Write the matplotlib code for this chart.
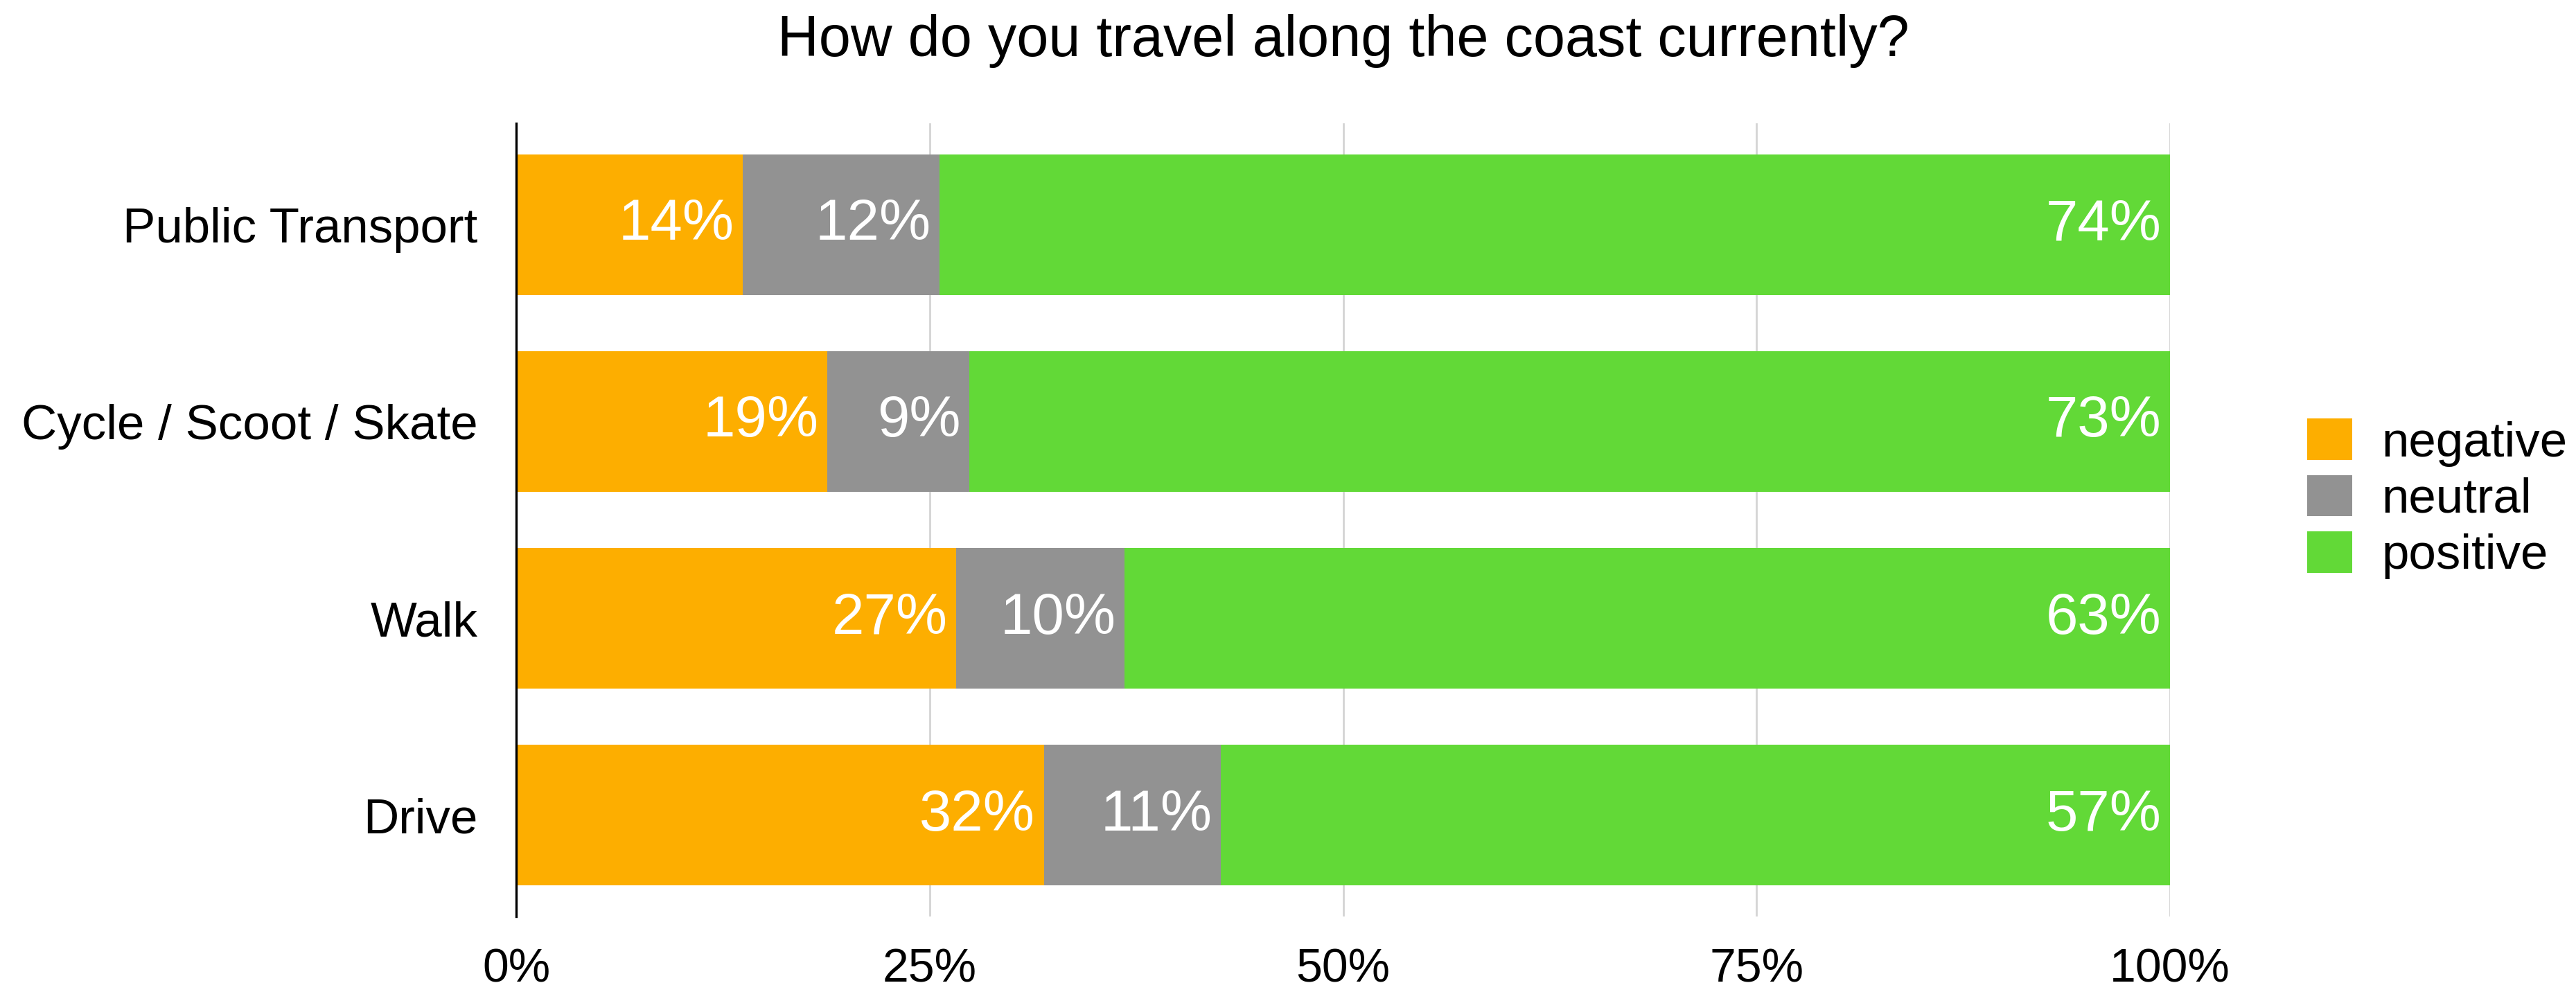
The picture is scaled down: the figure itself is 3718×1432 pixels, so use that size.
import matplotlib.pyplot as plt
import numpy as np

plt.rcParams["font.family"] = ["Liberation Sans", "DejaVu Sans"]

modes = ["Public Transport", "Cycle / Scoot / Skate", "Walk", "Drive"]
negative = [13.7, 18.8, 26.6, 31.9]
neutral = [11.9, 8.6, 10.2, 10.7]
positive = [74.4, 72.6, 63.2, 57.4]

series = ["negative", "neutral", "positive"]
colours = ["#FDAE00", "#929292", "#62D937"]

fig = plt.figure(figsize=(18.59, 7.16), dpi=200)
ax = fig.add_axes([0.2004, 0.0761, 0.8424 - 0.2004, 0.8757 - 0.0761])

y = np.arange(len(modes))
left = np.zeros(len(modes))
for name, vals, col in zip(series, [negative, neutral, positive], colours):
    vals = np.array(vals)
    bars = ax.barh(y, vals, left=left, height=0.715, color=col, label=name, zorder=2)
    # percentage printed at the right end of each segment
    for b, v in zip(bars, vals):
        ax.annotate(f"{v:.0f}%", (b.get_x() + b.get_width(), b.get_y() + b.get_height() / 2),
                    xytext=(-4.5, 0), textcoords="offset points",
                    ha="right", va="center", color="white", fontsize=30, zorder=3)
    left += vals

ax.set_xlim(0, 100)
ax.set_ylim(-0.515, len(modes) - 0.485)
ax.invert_yaxis()
ax.set_yticks(y)
ax.set_yticklabels(modes, fontsize=25.5)
ax.set_xticks([0, 25, 50, 75, 100])
ax.set_xticklabels(["0%", "25%", "50%", "75%", "100%"], fontsize=24.5)
ax.tick_params(axis="both", length=0)
ax.tick_params(axis="x", pad=16)
ax.tick_params(axis="y", pad=20)

ax.grid(axis="x", color="#d4d4d4", linewidth=1.0, zorder=0)
for s in ["top", "right", "bottom"]:
    ax.spines[s].set_visible(False)
ax.spines["left"].set_linewidth(1.2)
ax.spines["left"].set_zorder(4)

ax.set_title("How do you travel along the coast currently?", fontsize=29.8, pad=35)

fig.legend(loc="center left", bbox_to_anchor=(0.8956, 0.497), bbox_transform=fig.transFigure,
           frameon=False, fontsize=25.5, handlelength=0.92, handleheight=0.92,
           handletextpad=0.6, labelspacing=0.17, borderpad=0, borderaxespad=0)

fig.savefig("out.png", dpi=200, facecolor="white")
